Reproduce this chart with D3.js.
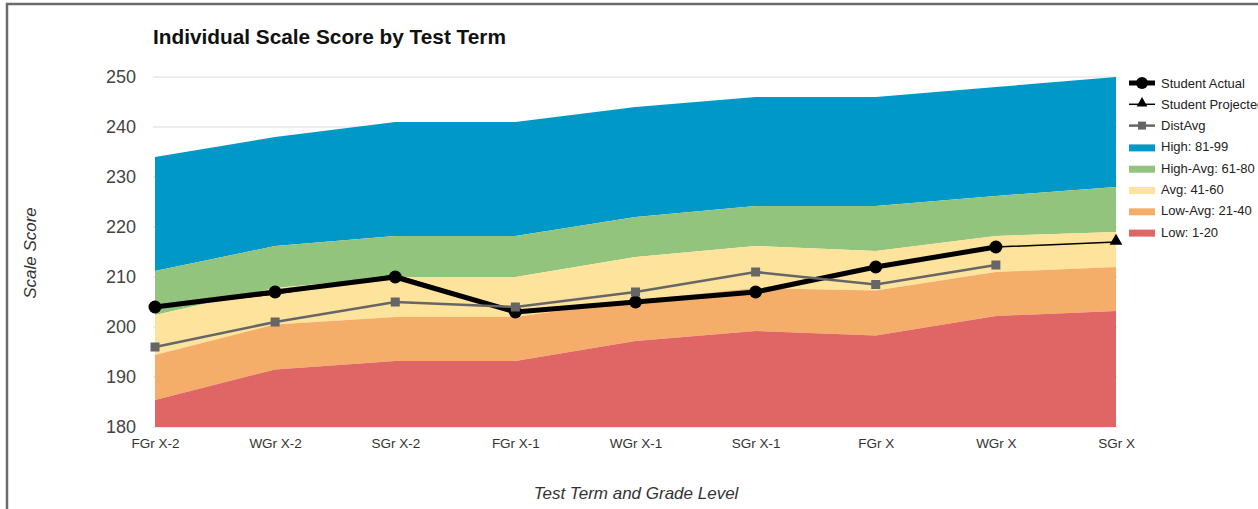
<!DOCTYPE html>
<html><head><meta charset="utf-8">
<script src="https://cdn.jsdelivr.net/npm/d3@7"></script>
<style>
html,body{margin:0;padding:0;background:#fff;}
svg{display:block;font-family:"Liberation Sans",Arial,sans-serif;}
</style></head>
<body>
<svg id="chart" width="1258" height="509"></svg>
<script>
const categories = ["FGr X-2","WGr X-2","SGr X-2","FGr X-1","WGr X-1","SGr X-1","FGr X","WGr X","SGr X"];
const yTicks = [180,190,200,210,220,230,240,250];
// band upper boundaries (scale score)
const lowTop      = [185.4,191.5,193.2,193.2,197.2,199.2,198.3,202.2,203.2];
const lowAvgTop   = [194.4,200.5,202.0,202.0,205.4,207.8,207.3,211.0,212.0];
const avgTop      = [202.4,207.8,210.0,210.0,214.0,216.2,215.2,218.2,219.0];
const highAvgTop  = [211.2,216.2,218.2,218.2,222.0,224.2,224.2,226.2,228.0];
const highTop     = [234.0,238.0,241.0,241.0,244.0,246.0,246.0,248.0,250.0];
const studentActual    = [204,207,210,203,205,207,212,216,null];
const studentProjected = [204,206.6,210.4,203,205,207,212,216,217];
const distAvg          = [196,201,205,204,207,211,208.5,212.4,null];
const bandNames = ["High: 81-99","High-Avg: 61-80","Avg: 41-60","Low-Avg: 21-40","Low: 1-20"];
const bandColors = ["#0099c7","#93c47d","#fde39b","#f4ae69","#e06666"];

const svg = d3.select("#chart");
const x = d3.scalePoint().domain(categories).range([155,1116]);
const y = d3.scaleLinear().domain([180,250]).range([427,77]);

// frame
svg.append("path").attr("d","M7,509 V4 H1258").attr("fill","none").attr("stroke","#6b6b6b").attr("stroke-width",2.5);

// title
svg.append("text").attr("x",153).attr("y",44).attr("font-size",20.8).attr("font-weight","bold").attr("fill","#111").text("Individual Scale Score by Test Term");

// gridlines
svg.append("g").selectAll("line").data(yTicks).join("line")
  .attr("x1",153).attr("x2",1117).attr("y1",d=>y(d)).attr("y2",d=>y(d))
  .attr("stroke","#dcdcdc").attr("stroke-width",1);

// bands
const bounds = [highTop, highAvgTop, avgTop, lowAvgTop, lowTop, categories.map(()=>180)];
const area = d3.area().x((d,i)=>x(categories[i])).y0(d=>y(d[0])).y1(d=>y(d[1]));
for(let b=0;b<5;b++){
  const data = categories.map((c,i)=>[bounds[b+1][i], bounds[b][i]]);
  svg.append("path").datum(data).attr("d",area).attr("fill",bandColors[b]);
}

// y axis labels
const yAxis = d3.axisLeft(y).tickValues(yTicks).tickSize(0).tickPadding(0);
const gy = svg.append("g").attr("transform","translate(136,0)").call(yAxis);
gy.select(".domain").remove();
gy.selectAll("text").attr("font-size",18).attr("fill","#444").attr("font-family","Liberation Sans, Arial, sans-serif");

// x axis labels
const xAxis = d3.axisBottom(x).tickSize(0).tickPadding(0);
const gx = svg.append("g").attr("transform","translate(0,438)").call(xAxis);
gx.select(".domain").remove();
gx.selectAll("text").attr("font-size",13.5).attr("fill","#333").attr("font-family","Liberation Sans, Arial, sans-serif");

// axis titles
svg.append("text").attr("x",636).attr("y",499).attr("text-anchor","middle").attr("font-size",17).attr("font-style","italic").attr("fill","#333").text("Test Term and Grade Level");
svg.append("text").attr("transform","translate(36,253) rotate(-90)").attr("text-anchor","middle").attr("font-size",17).attr("font-style","italic").attr("fill","#333").text("Scale Score");

function mkLine(arr){
  const pts = arr.map((v,i)=>v==null?null:[x(categories[i]),y(v)]);
  return d3.line().defined(d=>d!=null)(pts);
}

// projected
svg.append("path").attr("d",mkLine(studentProjected)).attr("fill","none").attr("stroke","#000").attr("stroke-width",1.5);
const tri = d3.symbol().type(d3.symbolTriangle).size(70);
svg.append("g").selectAll("path").data(studentProjected.map((v,i)=>({v,i})).filter(d=>studentActual[d.i]==null && d.v!=null)).join("path")
  .attr("d",tri).attr("transform",d=>`translate(${x(categories[d.i])},${y(d.v)-1})`).attr("fill","#000");

// actual
svg.append("path").attr("d",mkLine(studentActual)).attr("fill","none").attr("stroke","#000").attr("stroke-width",5).attr("stroke-linejoin","round");
svg.append("g").selectAll("circle").data(studentActual.map((v,i)=>({v,i})).filter(d=>d.v!=null)).join("circle")
  .attr("cx",d=>x(categories[d.i])).attr("cy",d=>y(d.v)).attr("r",6.5).attr("fill","#000");

// dist avg
svg.append("path").attr("d",mkLine(distAvg)).attr("fill","none").attr("stroke","#666").attr("stroke-width",2.5);
svg.append("g").selectAll("rect").data(distAvg.map((v,i)=>({v,i})).filter(d=>d.v!=null)).join("rect")
  .attr("x",d=>x(categories[d.i])-4.5).attr("y",d=>y(d.v)-4.5).attr("width",9).attr("height",9).attr("fill","#666");

// legend
const legendItems = [
  {name:"Student Actual", type:"actual"},
  {name:"Student Projected", type:"proj"},
  {name:"DistAvg", type:"dist"},
  ...bandNames.map((n,i)=>({name:n,type:"band",color:bandColors[i]}))
];
const lg = svg.append("g");
legendItems.forEach((it,i)=>{
  const cy = 83 + i*21.3;
  const g = lg.append("g");
  if(it.type==="actual"){
    g.append("line").attr("x1",1129).attr("x2",1155).attr("y1",cy).attr("y2",cy).attr("stroke","#000").attr("stroke-width",5);
    g.append("circle").attr("cx",1142).attr("cy",cy).attr("r",6).attr("fill","#000");
  } else if(it.type==="proj"){
    g.append("line").attr("x1",1129).attr("x2",1155).attr("y1",cy).attr("y2",cy).attr("stroke","#000").attr("stroke-width",1.5);
    g.append("path").attr("d",d3.symbol().type(d3.symbolTriangle).size(50)()).attr("transform",`translate(1142,${cy-1})`).attr("fill","#000");
  } else if(it.type==="dist"){
    g.append("line").attr("x1",1129).attr("x2",1155).attr("y1",cy).attr("y2",cy).attr("stroke","#666").attr("stroke-width",2.5);
    g.append("rect").attr("x",1138).attr("y",cy-4).attr("width",8).attr("height",8).attr("fill","#666");
  } else {
    g.append("rect").attr("x",1129).attr("y",cy-2.5).attr("width",26).attr("height",7).attr("fill",it.color);
  }
  g.append("text").attr("x",1161).attr("y",cy+4.5).attr("font-size",13).attr("fill","#222").text(it.name);
});
</script>
</body></html>
